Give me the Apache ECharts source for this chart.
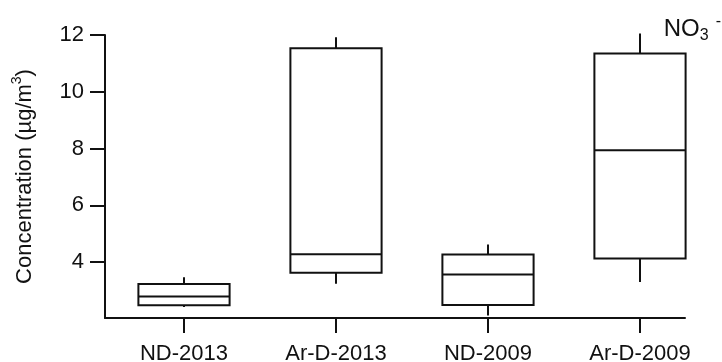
<!DOCTYPE html>
<html>
<head>
<meta charset="utf-8">
<script src="https://cdn.jsdelivr.net/npm/echarts@6/dist/echarts.min.js"></script>
<style>html,body{margin:0;padding:0;background:#fff;}#c{width:722px;height:362px;}</style>
</head>
<body>
<div id="c"></div>
<script>
const categories = ['ND-2013', 'Ar-D-2013', 'ND-2009', 'Ar-D-2009'];
const whiskerLow  = [2.42, 3.24, 2.12, 3.30];
const q1          = [2.48, 3.62, 2.49, 4.13];
const median      = [2.79, 4.28, 3.56, 7.94];
const q3          = [3.23, 11.53, 4.27, 11.35];
const whiskerHigh = [3.47, 11.92, 4.62, 12.05];
const yTicks = [4, 6, 8, 10, 12];

const FONT = "'Liberation Sans', Arial, sans-serif";
const INK = '#111';
const boxData = categories.map((c, i) => [i, whiskerLow[i], q1[i], median[i], q3[i], whiskerHigh[i]]);

const chart = echarts.init(document.getElementById('c'), null, {renderer: 'canvas'});
chart.setOption({
  animation: false,
  backgroundColor: '#fff',
  title: {
    text: '{n|NO}{s|3}{p|-}',
    right: -4, top: 9,
    textStyle: {
      fontWeight: 'normal',
      rich: {
        n: {fontFamily: FONT, fontSize: 24, fontWeight: 'normal', color: INK, lineHeight: 30, verticalAlign: 'middle'},
        s: {fontFamily: FONT, fontSize: 16, fontWeight: 'normal', color: INK, lineHeight: 16, verticalAlign: 'bottom'},
        p: {fontFamily: FONT, fontSize: 16, fontWeight: 'normal', color: INK, lineHeight: 16, verticalAlign: 'top', padding: [0, 0, 0, 7]}
      }
    }
  },
  grid: [
    {left: 108, right: 6, top: 35, bottom: 44, outerBoundsMode: 'none', containLabel: false},
    {left: 105, right: 37, top: 35, bottom: 44, outerBoundsMode: 'none', containLabel: false}
  ],
  xAxis: [
    {
      type: 'category', gridIndex: 0, data: categories, boundaryGap: true,
      axisLine: {show: false},
      axisTick: {show: true, alignWithLabel: true, length: 15, lineStyle: {color: INK, width: 2}},
      axisLabel: {fontFamily: FONT, fontSize: 22, color: INK, margin: 25},
      splitLine: {show: false}
    },
    {
      type: 'value', gridIndex: 1, min: 0, max: 1,
      axisLine: {show: true, lineStyle: {color: INK, width: 2}},
      axisTick: {show: false}, axisLabel: {show: false}, splitLine: {show: false}
    }
  ],
  yAxis: [
    {
      type: 'value', gridIndex: 0, min: 2.03, max: 12, show: false
    },
    {
      type: 'value', gridIndex: 1, min: 2.03, max: 12,
      name: '{a|Concentration (µg/m}{b|3}{a|)}',
      nameLocation: 'middle', nameGap: 69, nameRotate: 90,
      nameTextStyle: {
        rich: {
          a: {fontFamily: FONT, fontSize: 22, color: INK, verticalAlign: 'bottom', lineHeight: 26},
          b: {fontFamily: FONT, fontSize: 14, color: INK, verticalAlign: 'top', lineHeight: 26}
        }
      },
      axisLine: {show: true, lineStyle: {color: INK, width: 2}},
      axisTick: {show: true, length: 15, customValues: yTicks, lineStyle: {color: INK, width: 2}},
      axisLabel: {fontFamily: FONT, fontSize: 22, color: INK, margin: 21, customValues: yTicks},
      splitLine: {show: false}
    }
  ],
  series: [{
    type: 'custom',
    xAxisIndex: 0, yAxisIndex: 0,
    data: boxData,
    encode: {x: 0, y: [1, 2, 3, 4, 5]},
    clip: false,
    renderItem: function (params, api) {
      const x = api.value(0);
      const band = api.size([1, 0])[0];
      const half = band * 0.6 / 2;
      const pLow = api.coord([x, api.value(1)]);
      const pQ1 = api.coord([x, api.value(2)]);
      const pMed = api.coord([x, api.value(3)]);
      const pQ3 = api.coord([x, api.value(4)]);
      const pHigh = api.coord([x, api.value(5)]);
      const st = {stroke: INK, lineWidth: 2, fill: null};
      return {
        type: 'group',
        children: [
          {type: 'line', shape: {x1: pHigh[0], y1: pHigh[1], x2: pQ3[0], y2: pQ3[1]}, style: st},
          {type: 'line', shape: {x1: pQ1[0], y1: pQ1[1], x2: pLow[0], y2: pLow[1]}, style: st},
          {type: 'rect', shape: {x: pQ3[0] - half, y: pQ3[1], width: half * 2, height: pQ1[1] - pQ3[1]}, style: {stroke: INK, lineWidth: 2, fill: '#fff'}},
          {type: 'line', shape: {x1: pMed[0] - half, y1: pMed[1], x2: pMed[0] + half, y2: pMed[1]}, style: st}
        ]
      };
    }
  }]
});
</script>
</body>
</html>
